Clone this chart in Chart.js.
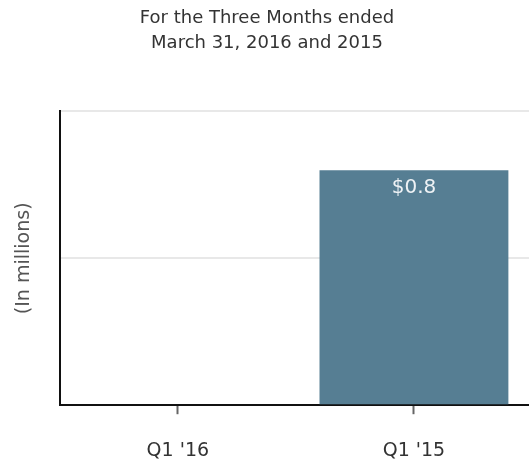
<!DOCTYPE html>
<html lang="en">
<head>
<meta charset="UTF-8">
<title>For the Three Months ended March 31, 2016 and 2015</title>
<script src="https://cdn.jsdelivr.net/npm/chart.js"></script>
<style>
  html, body { margin: 0; padding: 0; background: #fff; overflow: hidden; }
  canvas { display: block; }
</style>
</head>
<body>
<canvas id="chart" width="545" height="463"></canvas>
<script>
const quarters = ["Q1 '16", "Q1 '15"];
const amounts = [null, 0.8];
const amountLabels = [null, '$0.8'];

const FONT = '"DejaVu Sans", "Liberation Sans", Arial, sans-serif';

// white value text just inside the top of each bar
const barLabels = {
    id: 'barLabels',
    afterDatasetsDraw(chart) {
        const ctx = chart.ctx;
        const meta = chart.getDatasetMeta(0);
        ctx.save();
        ctx.fillStyle = '#eef2f5';
        ctx.font = '20px ' + FONT;
        ctx.textAlign = 'center';
        ctx.textBaseline = 'middle';
        meta.data.forEach((bar, i) => {
            if (amountLabels[i] == null) return;
            ctx.fillText(amountLabels[i], bar.x, bar.y + 18);
        });
        ctx.restore();
    }
};

new Chart(document.getElementById('chart'), {
    type: 'bar',
    data: {
        labels: quarters,
        datasets: [{
            data: amounts,
            backgroundColor: '#567e93',
            categoryPercentage: 0.8,
            barPercentage: 1.0
        }]
    },
    plugins: [barLabels],
    options: {
        responsive: false,
        animation: false,
        layout: { padding: { left: 2, right: 13, top: 0, bottom: -24 } },
        plugins: {
            legend: { display: false },
            tooltip: { enabled: false },
            title: {
                display: true,
                text: ['For the Three Months ended', 'March 31, 2016 and 2015'],
                color: '#333',
                font: { family: FONT, size: 18, weight: 'normal', lineHeight: 1.4 },
                padding: { top: 6, bottom: 55 }
            }
        },
        scales: {
            x: {
                grid: {
                    display: true,
                    offset: false,
                    drawOnChartArea: false,
                    drawTicks: true,
                    tickLength: 9,
                    tickColor: '#666',
                    tickWidth: 2
                },
                border: { display: true, color: '#111', width: 2 },
                ticks: {
                    color: '#333',
                    padding: 25,
                    font: { family: FONT, size: 19 }
                }
            },
            y: {
                min: 0,
                max: 1,
                grid: { color: '#e8e8e8', lineWidth: 2, drawTicks: false },
                border: { display: true, color: '#111', width: 2 },
                ticks: { stepSize: 0.5, display: false },
                title: {
                    display: true,
                    text: '(In millions)',
                    color: '#555',
                    padding: { top: 11, bottom: 24 },
                    font: { family: FONT, size: 19 }
                }
            }
        }
    }
});
</script>
</body>
</html>
